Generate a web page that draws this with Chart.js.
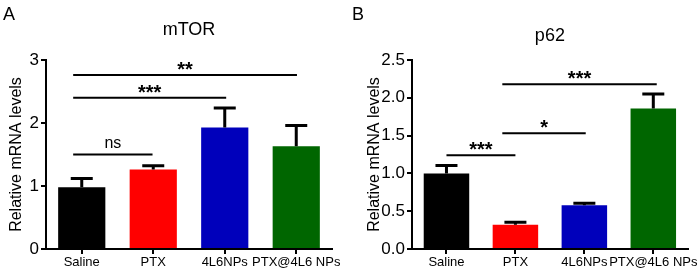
<!DOCTYPE html>
<html>
<head>
<meta charset="utf-8">
<script src="https://cdn.jsdelivr.net/npm/chart.js@4/dist/chart.umd.min.js"></script>
<style>
  body { margin: 0; background: #fff; }
  #wrap { position: relative; width: 700px; height: 274px; }
  canvas { position: absolute; top: 0; }
</style>
</head>
<body>
<div id="wrap">
  <canvas id="chartA" width="350" height="274" style="left:0"></canvas>
  <canvas id="chartB" width="350" height="274" style="left:350px"></canvas>
</div>
<script>
const categories = ["Saline", "PTX", "4L6NPs", "PTX@4L6 NPs"];
const barColors = ["#000000", "#ff0000", "#0000bb", "#006600"];

// panel A - mTOR
const mtorValues = [0.98, 1.26, 1.93, 1.63];
const mtorErrors = [0.14, 0.06, 0.31, 0.33];
const mtorTicks = [0, 1, 2, 3];
const mtorTickLabels = ["0", "1", "2", "3"];
const mtorSigFrom = [-0.12, -0.12, -0.12];
const mtorSigTo = [0.99, 2.02, 3.01];
const mtorSigY = [1.50, 2.40, 2.76];
const mtorSigText = ["ns", "***", "**"];

// panel B - p62
const p62Values = [1.0, 0.32, 0.58, 1.86];
const p62Errors = [0.105, 0.035, 0.025, 0.19];
const p62Ticks = [0, 0.5, 1, 1.5, 2, 2.5];
const p62TickLabels = ["0.0", "0.5", "1.0", "1.5", "2.0", "2.5"];
const p62SigFrom = [0, 0.81, 0.81];
const p62SigTo = [1.0, 2.02, 3.05];
const p62SigY = [1.24, 1.53, 2.18];
const p62SigText = ["***", "*", "***"];

Chart.defaults.font.family = "'Liberation Sans', Arial, sans-serif";
Chart.defaults.color = "#000";

// error bars (upper only) + significance lines, drawn through the scales
const extrasPlugin = {
    id: "extras",
    afterDatasetsDraw(chart, args, opts) {
        const ctx = chart.ctx;
        const x = chart.scales.x;
        const y = chart.scales.y;
        const meta = chart.getDatasetMeta(0);
        ctx.save();
        ctx.strokeStyle = "#000";
        ctx.lineWidth = 3;
        meta.data.forEach((bar, i) => {
            const v = opts.values[i];
            const top = y.getPixelForValue(v + opts.errors[i]);
            const base = y.getPixelForValue(v);
            ctx.beginPath();
            ctx.moveTo(bar.x, base);
            ctx.lineTo(bar.x, top);
            ctx.moveTo(bar.x - 11, top);
            ctx.lineTo(bar.x + 11, top);
            ctx.stroke();
        });
        ctx.lineWidth = 2;
        ctx.fillStyle = "#000";
        ctx.textAlign = "center";
        ctx.textBaseline = "alphabetic";
        opts.sigY.forEach((sy, i) => {
            const x1 = x.getPixelForValue(opts.sigFrom[i]);
            const x2 = x.getPixelForValue(opts.sigTo[i]);
            const py = y.getPixelForValue(sy);
            ctx.beginPath();
            ctx.moveTo(x1, py);
            ctx.lineTo(x2, py);
            ctx.stroke();
            const t = opts.sigText[i];
            if (t === "ns") {
                ctx.font = "16px 'Liberation Sans', Arial, sans-serif";
                ctx.fillText(t, (x1 + x2) / 2, py - 7);
            } else {
                ctx.font = "bold 20px 'Liberation Sans', Arial, sans-serif";
                ctx.fillText(t, (x1 + x2) / 2, py + 1);
            }
        });
        ctx.font = "18px 'Liberation Sans', Arial, sans-serif";
        ctx.textAlign = "left";
        ctx.fillText(opts.letter, opts.letterX, 20);
        ctx.restore();
    },
};

function buildPanel(canvas, title, values, errors, ticks, tickLabels, max, sig, layout) {
    new Chart(canvas, {
        type: "bar",
        data: {
            labels: categories,
            datasets: [
                {
                    data: values,
                    backgroundColor: barColors,
                    borderWidth: 0,
                    barPercentage: 0.66,
                    categoryPercentage: 1,
                },
            ],
        },
        plugins: [extrasPlugin],
        options: {
            responsive: false,
            animation: false,
            devicePixelRatio: 1,
            layout: { padding: { left: 0, right: layout.right, top: 0, bottom: 0 } },
            plugins: {
                legend: { display: false },
                tooltip: { enabled: false },
                title: {
                    display: true,
                    text: title,
                    fullSize: false,
                    color: "#000",
                    font: { size: 18, weight: "normal" },
                    padding: { top: layout.titleTop, bottom: 60 - layout.titleTop - 21.6 },
                },
                extras: {
                    values: values,
                    errors: errors,
                    sigFrom: sig.from,
                    sigTo: sig.to,
                    sigY: sig.y,
                    sigText: sig.text,
                    letter: layout.letter,
                    letterX: layout.letterX,
                },
            },
            scales: {
                x: {
                    afterFit: (s) => { s.height = 25; },
                    grid: { drawOnChartArea: false, drawTicks: true, tickLength: 5, color: "#000", lineWidth: 2, offset: false },
                    border: { color: "#000", width: 2 },
                    ticks: { color: "#000", font: { size: 13 }, padding: 1, maxRotation: 0, autoSkip: false },
                },
                y: {
                    min: 0,
                    max: max,
                    afterBuildTicks: (s) => { s.ticks = ticks.map((v) => ({ value: v })); },
                    afterFit: (s) => { s.width = layout.yWidth; },
                    grid: { drawOnChartArea: false, drawTicks: true, tickLength: 5, color: "#000", lineWidth: 2 },
                    border: { color: "#000", width: 2 },
                    ticks: { color: "#000", font: { size: 17 }, padding: 2, callback: (v, i) => tickLabels[i] },
                    title: {
                        display: true,
                        text: "Relative mRNA levels",
                        color: "#000",
                        font: { size: 16 },
                        padding: { top: layout.yTitlePad, bottom: 0 },
                    },
                },
            },
        },
    });
}

buildPanel(document.getElementById("chartA"), "mTOR", mtorValues, mtorErrors, mtorTicks, mtorTickLabels, 3,
    { from: mtorSigFrom, to: mtorSigTo, y: mtorSigY, text: mtorSigText },
    { right: 18, yWidth: 46, titleTop: 19, yTitlePad: 7, letter: "A", letterX: 3 });

buildPanel(document.getElementById("chartB"), "p62", p62Values, p62Errors, p62Ticks, p62TickLabels, 2.5,
    { from: p62SigFrom, to: p62SigTo, y: p62SigY, text: p62SigText },
    { right: 10, yWidth: 62, titleTop: 25, yTitlePad: 15, letter: "B", letterX: 2 });
</script>
</body>
</html>
